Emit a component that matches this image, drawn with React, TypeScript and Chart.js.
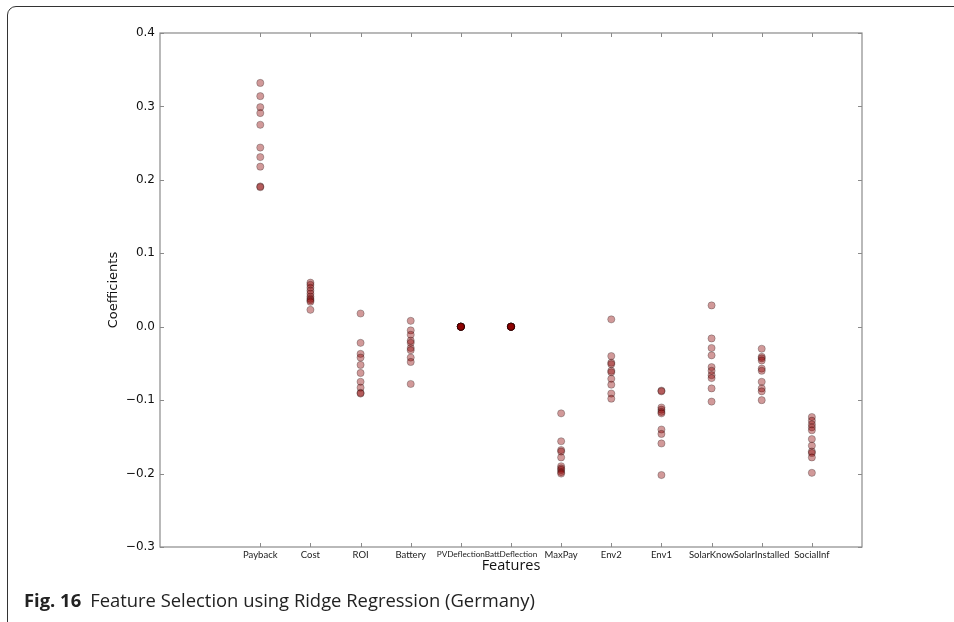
import React, { useEffect, useRef } from "react";
import { Chart, registerables } from "chart.js";

Chart.register(...registerables);

const features = [
  "Payback", "Cost", "ROI", "Battery", "PVDeflection", "BattDeflection",
  "MaxPay", "Env2", "Env1", "SolarKnow", "SolarInstalled", "SocialInf",
];

const payback = [0.332, 0.314, 0.299, 0.291, 0.275, 0.244, 0.231, 0.218, 0.191, 0.190];
const cost = [0.060, 0.057, 0.053, 0.049, 0.045, 0.041, 0.038, 0.036, 0.034, 0.023];
const roi = [0.018, -0.022, -0.037, -0.042, -0.052, -0.063, -0.075, -0.083, -0.090, -0.091];
const battery = [0.008, -0.005, -0.011, -0.019, -0.022, -0.029, -0.032, -0.042, -0.048, -0.078];
const pvDeflection = [0, 0, 0, 0, 0, 0, 0, 0, 0, 0];
const battDeflection = [0, 0, 0, 0, 0, 0, 0, 0, 0, 0];
const maxPay = [-0.118, -0.156, -0.168, -0.170, -0.178, -0.190, -0.193, -0.195, -0.198, -0.200];
const env2 = [0.010, -0.040, -0.049, -0.051, -0.060, -0.062, -0.071, -0.079, -0.091, -0.098];
const env1 = [-0.087, -0.088, -0.110, -0.113, -0.116, -0.118, -0.140, -0.146, -0.159, -0.202];
const solarKnow = [0.029, -0.016, -0.029, -0.039, -0.055, -0.060, -0.066, -0.070, -0.084, -0.102];
const solarInstalled = [-0.030, -0.041, -0.043, -0.046, -0.057, -0.060, -0.075, -0.084, -0.088, -0.100];
const socialInf = [-0.123, -0.128, -0.133, -0.137, -0.141, -0.153, -0.162, -0.170, -0.172, -0.178, -0.199];

const seriesValues = [
  payback, cost, roi, battery, pvDeflection, battDeflection,
  maxPay, env2, env1, solarKnow, solarInstalled, socialInf,
];

const yTicks = [-0.3, -0.2, -0.1, 0.0, 0.1, 0.2, 0.3, 0.4];

const frameColor = "#8a8a8a";

const framePlugin = {
  id: "mplFrame",
  afterDraw(chart: any) {
    const { ctx, chartArea } = chart;
    const { left, right, top, bottom } = chartArea;
    const xs = chart.scales.x;
    const ys = chart.scales.y;
    ctx.save();
    ctx.strokeStyle = frameColor;
    ctx.lineWidth = 1.2;
    ctx.strokeRect(left, top, right - left, bottom - top);
    ctx.lineWidth = 1;
    const tl = 4;
    ctx.beginPath();
    features.forEach((_, i) => {
      const px = Math.round(xs.getPixelForValue(i + 1)) + 0.5;
      ctx.moveTo(px, bottom);
      ctx.lineTo(px, bottom - tl);
      ctx.moveTo(px, top);
      ctx.lineTo(px, top + tl);
    });
    yTicks.forEach((v) => {
      const py = Math.round(ys.getPixelForValue(v)) + 0.5;
      ctx.moveTo(left, py);
      ctx.lineTo(left + tl, py);
      ctx.moveTo(right, py);
      ctx.lineTo(right - tl, py);
    });
    ctx.stroke();
    ctx.restore();
  },
};

export default function App() {
  const canvasRef = useRef<HTMLCanvasElement | null>(null);

  useEffect(() => {
    document.body.style.margin = "0";
    document.body.style.overflow = "hidden";
    const canvas = canvasRef.current;
    if (!canvas) return;
    const datasets = seriesValues.map((vals, i) => ({
      label: features[i],
      data: vals.map((v) => ({ x: i + 1, y: v })),
      backgroundColor: "rgba(139,0,0,0.4)",
      borderColor: "rgba(0,0,0,0.25)",
      borderWidth: 1,
      pointRadius: 3.6,
    }));
    const chart = new Chart(canvas, {
      type: "scatter",
      data: { datasets },
      options: {
        animation: false,
        responsive: false,
        events: [],
        layout: { padding: { left: 100, right: 92, top: 33, bottom: 35 } },
        plugins: { legend: { display: false }, tooltip: { enabled: false } },
        scales: {
          x: {
            type: "linear",
            min: -1,
            max: 13,
            border: { display: false },
            grid: { display: false, drawTicks: false },
            afterBuildTicks: (scale: any) => {
              scale.ticks = features.map((_, i) => ({ value: i + 1 }));
            },
            afterFit: (scale: any) => {
              scale.height = 40;
            },
            ticks: {
              autoSkip: false,
              maxRotation: 0,
              minRotation: 0,
              padding: 2,
              color: "#222",
              font: (c: any) => {
                const v = c.tick ? c.tick.value : 0;
                const name = features[v - 1] || "";
                const small = name.indexOf("Deflection") >= 0;
                return {
                  family: "Lato, sans-serif",
                  size: small ? 8.2 : 9.5,
                  lineHeight: small ? 1.42 : 1.2,
                };
              },
              callback: (v: any) => features[Number(v) - 1] ?? "",
            },
            title: {
              display: true,
              text: "Features",
              color: "#111",
              font: { family: "'Open Sans', sans-serif", size: 14.5 },
              padding: { top: 0, bottom: 12 },
            },
          },
          y: {
            min: -0.3,
            max: 0.4,
            border: { display: false },
            grid: { display: false, drawTicks: false },
            afterBuildTicks: (scale: any) => {
              scale.ticks = yTicks.map((v) => ({ value: v }));
            },
            afterFit: (scale: any) => {
              scale.width = 60;
            },
            ticks: {
              padding: 5,
              color: "#111",
              font: { family: "'DejaVu Sans', sans-serif", size: 12 },
              callback: (v: any) => {
                const n = Number(v);
                if (Math.abs(n) < 1e-9) return "0.0";
                return n < 0 ? "\u2212" + Math.abs(n).toFixed(1) : n.toFixed(1);
              },
            },
            title: {
              display: true,
              text: "Coefficients",
              color: "#111",
              font: { family: "'DejaVu Sans', sans-serif", size: 13 },
              padding: { top: 6, bottom: 0 },
            },
          },
        },
      },
      plugins: [framePlugin],
    } as any);
    return () => chart.destroy();
  }, []);

  return (
    <div style={{ position: "fixed", left: 0, top: 0, width: 954, height: 622, overflow: "hidden", background: "#fff" }}>
      <div
        style={{
          position: "absolute",
          left: 7,
          top: 6,
          width: 1100,
          height: 800,
          border: "1px solid #333",
          borderTopLeftRadius: 9,
          boxSizing: "border-box",
        }}
      />
      <canvas ref={canvasRef} width={954} height={622} style={{ position: "absolute", left: 0, top: 0 }} />
      <div
        style={{
          position: "absolute",
          left: 24,
          top: 587,
          fontFamily: "'Open Sans', sans-serif",
          fontSize: 18.4,
          color: "#222",
          whiteSpace: "nowrap",
          lineHeight: "26px",
        }}
      >
        <span style={{ fontWeight: 700 }}>Fig. 16</span>
        <span style={{ marginLeft: 9 }}>Feature Selection using Ridge Regression (Germany)</span>
      </div>
    </div>
  );
}
